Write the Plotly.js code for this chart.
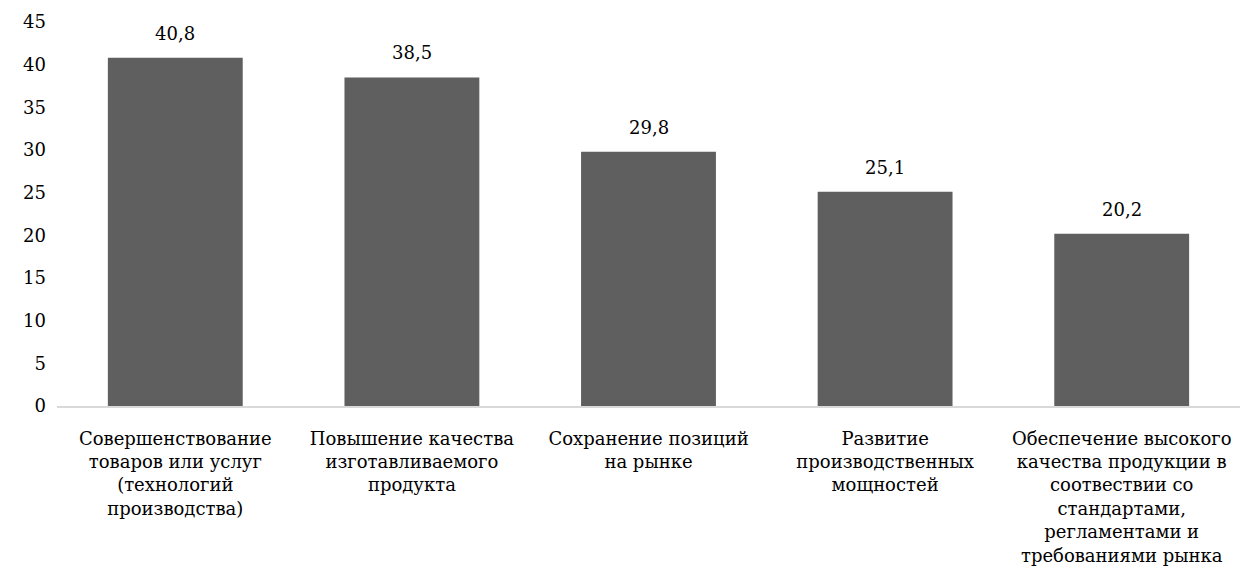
<!DOCTYPE html>
<html>
<head>
<meta charset="utf-8">
<script src="https://cdn.plot.ly/plotly-3.0.1.min.js"></script>
<style>html,body{margin:0;padding:0;background:#fff;}#chart{width:1243px;height:588px;}</style>
</head>
<body>
<div id="chart"></div>
<script>
const categories = [
  "Совершенствование<br>товаров или услуг<br>(технологий<br>производства)",
  "Повышение качества<br>изготавливаемого<br>продукта",
  "Сохранение позиций<br>на рынке",
  "Развитие<br>производственных<br>мощностей",
  "Обеспечение высокого<br>качества продукции в<br>соотвествии со<br>стандартами,<br>регламентами и<br>требованиями рынка"
];
const values = [40.8, 38.5, 29.8, 25.1, 20.2];
const yTicks = [0, 5, 10, 15, 20, 25, 30, 35, 40, 45];

const fam = "DejaVu Serif";
const font = {family: fam, size: 18, color: "#000"};

const trace = {
  type: "bar",
  x: categories,
  y: values,
  marker: {color: "#5f5f5f"},
  hoverinfo: "none"
};

const annotations = categories.map((c, i) => ({
  x: c, y: values[i], xref: "x", yref: "y",
  text: values[i].toFixed(1).replace(".", ","),
  showarrow: false, yanchor: "bottom", yshift: 12,
  font: font
}));

const layout = {
  width: 1243, height: 588,
  margin: {l: 57, r: 3, t: 22, b: 182},
  paper_bgcolor: "#fff", plot_bgcolor: "#fff",
  font: font,
  bargap: 0.43,
  showlegend: false,
  separators: ", ",
  xaxis: {
    showline: true, linecolor: "#d9d9d9", linewidth: 2,
    ticks: "", showgrid: false, zeroline: false,
    tickfont: font, ticklabelstandoff: 15, automargin: false
  },
  yaxis: {
    range: [0, 45], tickvals: yTicks, ticktext: yTicks.map(String),
    showline: false, showgrid: false, zeroline: false, ticks: "",
    tickfont: font, ticklabelstandoff: 10, automargin: false
  },
  annotations: annotations
};

Plotly.newPlot("chart", [trace], layout, {displayModeBar: false, staticPlot: true});
</script>
</body>
</html>
